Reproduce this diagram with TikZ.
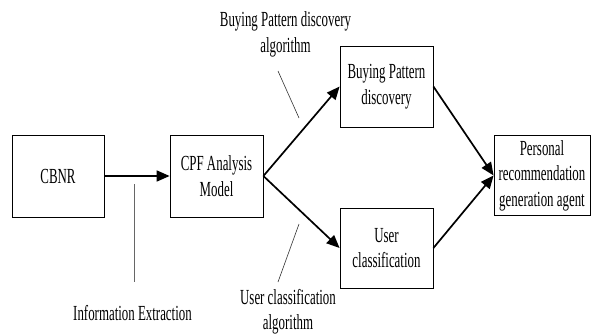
\documentclass[tikz,border=0pt]{standalone}
\usepackage{fontspec}
\setmainfont[FakeStretch=0.6]{Liberation Serif}
\usetikzlibrary{arrows.meta}
\tikzset{
  box/.style={draw=black, line width=0.8pt, align=center, inner sep=0pt,
    font=\fontsize{21.5}{25.5}\selectfont},
  lbl/.style={align=center, inner sep=0pt, font=\fontsize{21.5}{25.5}\selectfont},
  flow/.style={line width=1.7pt, -{Triangle[length=13pt,width=11pt]}, shorten >=0pt},
  leader/.style={line width=0.6pt, black!80},
}
\begin{document}
\begin{tikzpicture}[x=1pt,y=-1pt]
\useasboundingbox (0,0) rectangle (592,335);
\node[box, minimum width=92pt, minimum height=82pt] (cbnr) at (58,176) {CBNR};
\node[box, minimum width=93pt, minimum height=82pt] (cpf) at (216.5,176) {CPF Analysis\\Model};
\node[box, minimum width=93pt, minimum height=81pt] (bp) at (386.5,86.5) {Buying Pattern\\discovery};
\node[box, minimum width=93pt, minimum height=80pt] (uc) at (386.5,248) {User\\classification};
\node[box, minimum width=96pt, minimum height=80pt] (pr) at (542,175.5) {Personal\\recommendation\\generation agent};

\node[lbl] (lbp) at (285.5,34.5) {Buying Pattern discovery\\algorithm};
\node[lbl] (luc) at (288,311.5) {User classification\\algorithm};
\node[lbl] (lie) at (132.5,313) {Information Extraction};

\draw[flow] (cbnr.east) -- (cpf.west);
\draw[flow] (cpf.east) -- (bp.west);
\draw[flow] (cpf.east) -- (uc.west);
\draw[flow] (bp.east) -- (pr.west);
\draw[flow] (uc.east) -- (pr.west);

\coordinate (a1) at (278,71);
\coordinate (a2) at (299,118);
\coordinate (b1) at (299,224);
\coordinate (b2) at (278,282);
\coordinate (c1) at (134.5,184);
\coordinate (c2) at (134.5,282);
\draw[leader] (a1) -- (a2);
\draw[leader] (b1) -- (b2);
\draw[leader, black!60] (c1) -- (c2);
\end{tikzpicture}
\end{document}
